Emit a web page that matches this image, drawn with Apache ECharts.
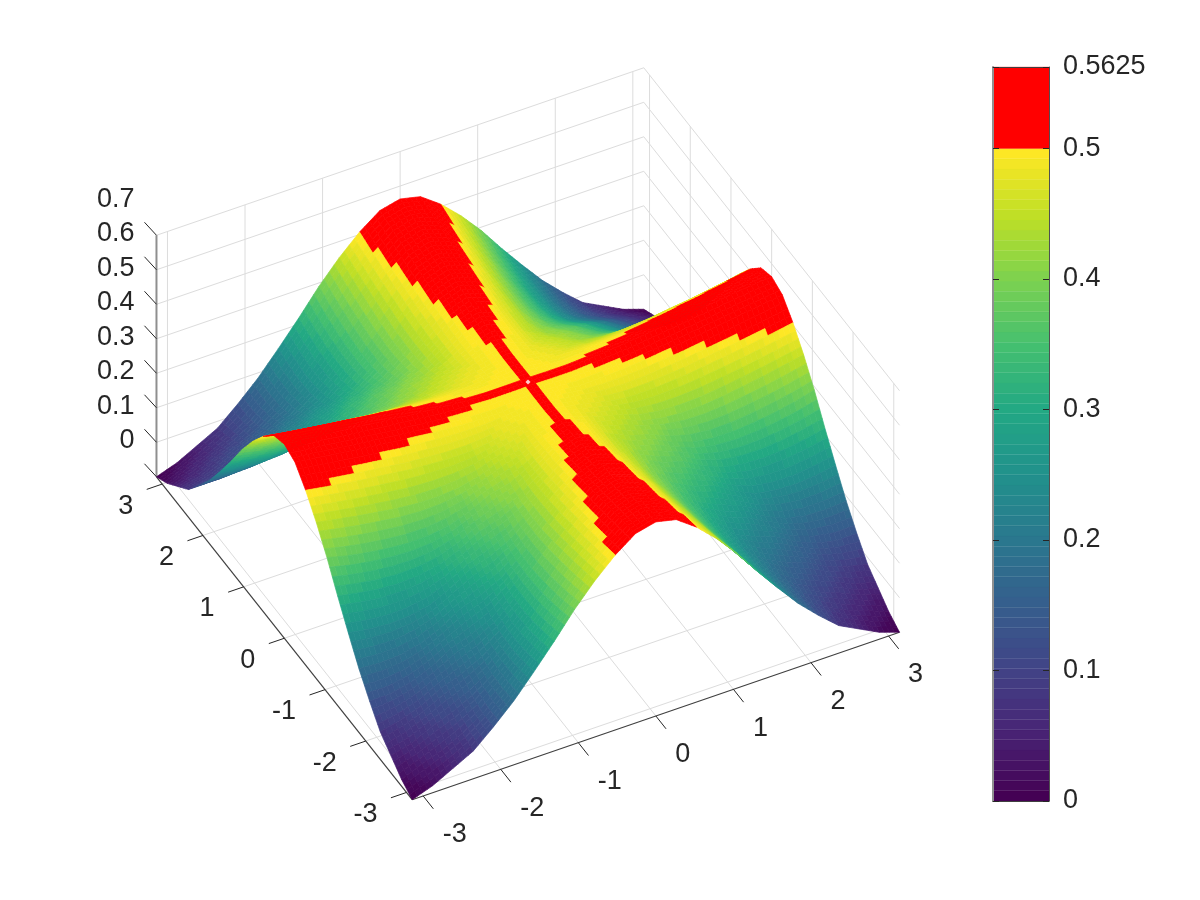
<!DOCTYPE html>
<html><head><meta charset="utf-8">
<style>html,body{margin:0;padding:0;background:#fff}#c{width:1200px;height:900px}</style>
<script src="https://cdn.jsdelivr.net/npm/echarts@6/dist/echarts.min.js"></script>
</head><body><div id="c"></div>
<script>
// ---- values ----
const xTicks = [-3,-2,-1,0,1,2,3];
const yTicks = [-3,-2,-1,0,1,2,3];
const zTicks = [0,0.1,0.2,0.3,0.4,0.5,0.6,0.7];
const colorbarTicks = [0,0.1,0.2,0.3,0.4,0.5,0.5625];
const viridisStops = ['#440154','#482475','#414487','#355f8d','#2a788e','#21918c','#22a884','#44bf70','#7ad151','#bddf26','#fde725'];
// surface height on one quadrant, |x| and |y| in steps of pi/12 (the surface is mirrored about both axes)
const zQuadrant = [
[.500,.501,.503,.507,.511,.517,.523,.530,.537,.544,.551,.557,.5625],
[.501,.494,.488,.489,.492,.496,.503,.509,.517,.525,.533,.541,.549],
[.503,.488,.477,.462,.455,.455,.459,.464,.472,.479,.488,.497,.507],
[.507,.489,.462,.448,.424,.411,.406,.407,.413,.422,.431,.442,.453],
[.511,.492,.455,.424,.410,.381,.361,.352,.351,.356,.364,.375,.390],
[.517,.496,.455,.411,.381,.364,.331,.307,.296,.293,.297,.306,.318],
[.523,.503,.459,.406,.361,.331,.3125,.277,.249,.238,.235,.240,.250],
[.530,.509,.464,.407,.352,.307,.277,.2575,.222,.196,.183,.181,.185],
[.537,.517,.472,.413,.351,.296,.249,.222,.2015,.167,.143,.130,.130],
[.544,.525,.479,.422,.356,.293,.238,.196,.167,.146,.114,.094,.080],
[.551,.533,.488,.431,.364,.297,.235,.183,.143,.114,.093,.065,.050],
[.557,.541,.497,.442,.375,.306,.240,.181,.130,.094,.065,.044,.020],
[.5625,.549,.507,.453,.390,.318,.250,.185,.130,.080,.050,.020,0]
];
// ---- view ----
const L = Math.PI, ZTOP = 0.7, CMAX = 0.5625, CLIP = 0.5, LEVELS = 64, SUB = 4;
const view = {cx:528, cy:554.5, xx:77.56, xy:-26.66, yx:-40.7, yy:-51.4, zy:-345};
function project(x,y,z){
  return [view.cx+view.xx*x+view.yx*y, view.cy+view.xy*x+view.yy*y+view.zy*z];
}
function hex(c){return [1,3,5].map(i=>parseInt(c.substr(i,2),16));}
function viridis(t){
  const p=Math.min(.9999,Math.max(0,t))*(viridisStops.length-1), i=Math.floor(p), f=p-i;
  const a=hex(viridisStops[i]), b=hex(viridisStops[i+1]);
  return 'rgb('+a.map((v,k)=>Math.round(v+(b[k]-v)*f)).join(',')+')';
}
const bandColors=[]; for(let i=0;i<LEVELS;i++) bandColors.push(viridis(i/(LEVELS-1)));
function colorOf(z){
  if(z>=CLIP) return '#ff0000';
  return bandColors[Math.max(0,Math.min(LEVELS-1,Math.floor(z/CLIP*LEVELS)))];
}
// full grid, by mirroring the quadrant
const N=12;
function zAt(i,j){return zQuadrant[Math.abs(i-N)][Math.abs(j-N)];}
function surf(u,v){ // u,v in fine steps
  const i=Math.min(2*N-1,Math.floor(u/SUB)), j=Math.min(2*N-1,Math.floor(v/SUB));
  const a=u/SUB-i, b=v/SUB-j;
  const z=(1-a)*(1-b)*zAt(i,j)+a*(1-b)*zAt(i+1,j)+(1-a)*b*zAt(i,j+1)+a*b*zAt(i+1,j+1);
  return [(u/SUB-N)*L/N,(v/SUB-N)*L/N,z];
}
const M=2*N*SUB, cells=[];
for(let u=M-1;u>=0;u--) for(let v=M-1;v>=0;v--) cells.push([u,v]);

// ---- 3D frame segments ----
const gridSegs=[], axisSegs=[], tickSegs=[], zAxisSegs=[];
xTicks.forEach(t=>{
  gridSegs.push([t,-L,0,t,L,0],[t,L,0,t,L,ZTOP]);
  tickSegs.push([t,-L,0,t,-L-0.25,0]);
});
yTicks.forEach(t=>{
  gridSegs.push([-L,t,0,L,t,0],[L,t,0,L,t,ZTOP]);
  tickSegs.push([-L,t,0,-L-0.2,t,0]);
});
zTicks.forEach(t=>{
  gridSegs.push([-L,L,t,L,L,t],[L,L,t,L,-L,t]);
});
axisSegs.push([-L,-L,0,L,-L,0],[-L,-L,0,-L,L,0]);
zAxisSegs.push([-L,L,0,-L,L,ZTOP]);
const FONT='"Liberation Sans",Arial,sans-serif', INK='#262626';
function segSeries(segs,color,width){
  return {type:'custom',coordinateSystem:'cartesian2d',xAxisIndex:0,yAxisIndex:0,silent:true,animation:false,clip:false,
    data:segs,
    renderItem:(p,api)=>{
      const s=segs[p.dataIndex];
      const a=api.coord(project(s[0],s[1],s[2])), b=api.coord(project(s[3],s[4],s[5]));
      return {type:'line',shape:{x1:a[0],y1:a[1],x2:b[0],y2:b[1]},style:{stroke:color,lineWidth:width,fill:null}};
    }};
}
function textSeries(items){
  return {type:'custom',coordinateSystem:'cartesian2d',xAxisIndex:0,yAxisIndex:0,silent:true,animation:false,clip:false,
    data:items.map((_,i)=>[i]),
    renderItem:(p,api)=>{
      const t=items[p.dataIndex], a=api.coord(project(t.x,t.y,t.z));
      return {type:'text',style:{text:t.text,x:a[0]+t.dx,y:a[1]+t.dy,fill:INK,fontSize:27,fontFamily:FONT,align:t.align,verticalAlign:'middle'}};
    }};
}
const labels=[];
xTicks.forEach(t=>labels.push({text:String(t),x:t,y:-L,z:0,dx:19.5,dy:39,align:'left'}));
yTicks.forEach(t=>labels.push({text:String(t),x:-L,y:t,z:0,dx:-29,dy:22,align:'right'}));
zTicks.forEach(t=>labels.push({text:String(t),x:-L,y:L,z:t,dx:-22,dy:-36,align:'right'}));

// z tick marks on the vertical axis
const zTickSeries={type:'custom',coordinateSystem:'cartesian2d',xAxisIndex:0,yAxisIndex:0,silent:true,animation:false,clip:false,
  data:zTicks.map(t=>[t]),
  renderItem:(p,api)=>{
    const a=api.coord(project(-L,L,api.value(0)));
    return {type:'line',shape:{x1:a[0],y1:a[1],x2:a[0]-12,y2:a[1]-13},style:{stroke:INK,lineWidth:1,fill:null}};
  }};

const surface={type:'custom',coordinateSystem:'cartesian2d',xAxisIndex:0,yAxisIndex:0,silent:true,animation:false,clip:false,
  progressive:0,data:cells,
  renderItem:(p,api)=>{
    const u=api.value(0), v=api.value(1);
    const c=[surf(u,v),surf(u+1,v),surf(u+1,v+1),surf(u,v+1)];
    const z=(c[0][2]+c[1][2]+c[2][2]+c[3][2])/4, col=colorOf(z);
    return {type:'polygon',shape:{points:c.map(q=>api.coord(project(q[0],q[1],q[2])))},
      style:{fill:col,stroke:col,lineWidth:0.7}};
  }};

// ---- colorbar ----
const bands=bandColors.map((c,i)=>[i/LEVELS*CLIP,(i+1)/LEVELS*CLIP]);
bands.push([CLIP,CMAX]);
const colorbar={type:'custom',coordinateSystem:'cartesian2d',xAxisIndex:1,yAxisIndex:1,silent:true,animation:false,z:1,
  data:bands,
  renderItem:(p,api)=>{
    const a=api.coord([0,api.value(1)]), b=api.coord([1,api.value(0)]);
    const col=p.dataIndex<LEVELS?bandColors[p.dataIndex]:'#ff0000';
    return {type:'rect',shape:{x:a[0],y:a[1],width:b[0]-a[0],height:b[1]-a[1]},style:{fill:col,stroke:col,lineWidth:0.3}};
  }};
const hideAxis={show:false};
const option={
  animation:false,backgroundColor:'#fff',
  grid:[
    {left:0,top:0,width:1200,height:900,show:false},
    {left:993,top:67,width:56,height:734,show:false}
  ],
  xAxis:[
    {type:'value',gridIndex:0,min:0,max:1200,...hideAxis},
    {type:'value',gridIndex:1,min:0,max:1,position:'top',axisLine:{show:true,onZero:false,lineStyle:{color:'#404040',width:1}},axisTick:{show:false},axisLabel:{show:false},splitLine:{show:false},z:5},
    {type:'value',gridIndex:1,min:0,max:1,position:'bottom',axisLine:{show:true,onZero:false,lineStyle:{color:'#404040',width:1}},axisTick:{show:false},axisLabel:{show:false},splitLine:{show:false},z:5}
  ],
  yAxis:[
    {type:'value',gridIndex:0,min:0,max:900,inverse:true,...hideAxis},
    {type:'value',gridIndex:1,min:0,max:CMAX,position:'right',
      axisLine:{show:true,onZero:false,lineStyle:{color:'#505050',width:1}},
      axisTick:{show:true,inside:true,length:6,customValues:colorbarTicks,lineStyle:{color:INK,width:1}},
      axisLabel:{show:true,margin:14,color:INK,fontSize:27,fontFamily:FONT,customValues:colorbarTicks,formatter:v=>String(v),hideOverlap:false,showMinLabel:true,showMaxLabel:true},
      splitLine:{show:false},z:5},
    {type:'value',gridIndex:1,min:0,max:CMAX,position:'left',
      axisLine:{show:true,onZero:false,lineStyle:{color:'#909090',width:2}},
      axisTick:{show:true,inside:true,length:6,customValues:colorbarTicks,lineStyle:{color:INK,width:1}},
      axisLabel:{show:false},splitLine:{show:false},z:5}
  ],
  series:[
    segSeries(gridSegs,'#dcdcdc',1),
    segSeries(zAxisSegs,'#8f8f8f',2),
    segSeries(axisSegs,'#404040',1.2),
    segSeries(tickSegs,INK,1),
    zTickSeries,
    surface,
    {type:'scatter',xAxisIndex:0,yAxisIndex:0,silent:true,animation:false,symbol:'diamond',symbolSize:5,
      itemStyle:{color:'#fff'},data:[project(0,0,CLIP)]},
    textSeries(labels),
    colorbar
  ]
};
const chart=echarts.init(document.getElementById('c'),null,{renderer:'canvas'});
chart.setOption(option);
</script>
</body></html>
